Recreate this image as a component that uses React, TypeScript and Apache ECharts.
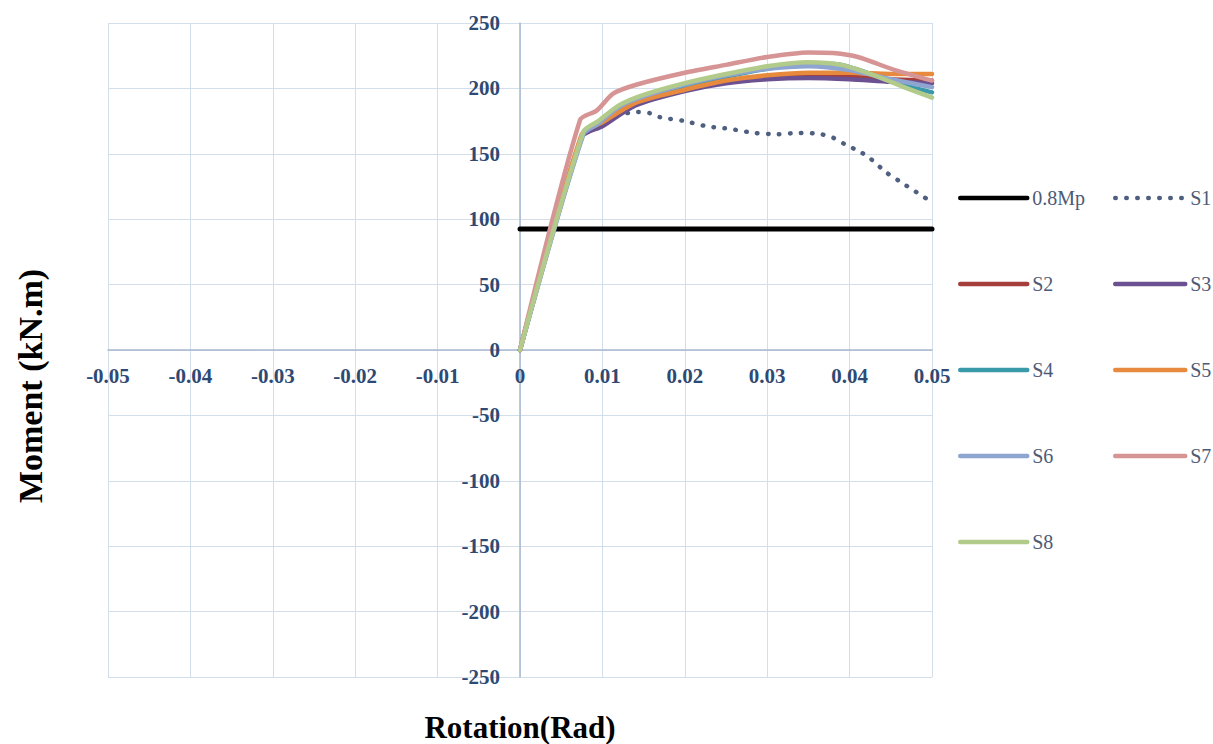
import React, { useEffect, useRef } from "react";
import * as echarts from "echarts";

// ---- data (rotation in rad, moment in kN.m) ----
const mpX = [0, 0.05];
const mpY = [92.5, 92.5];

const s1X = [0, 0.0075, 0.0095, 0.0115, 0.0142, 0.0158, 0.017, 0.02, 0.0227, 0.0255, 0.0284, 0.0312, 0.034, 0.0365, 0.0381, 0.0395, 0.0408, 0.0422, 0.0444, 0.0468, 0.0495];
const s1Y = [0, 164, 173, 179, 182, 181, 178, 175, 171, 169, 166, 165, 166, 165, 162, 157, 153, 148, 136, 126, 115];

const s2X = [0, 0.0075, 0.01, 0.014, 0.02, 0.025, 0.03, 0.035, 0.04, 0.045, 0.05];
const s2Y = [0, 163, 172, 188, 199, 205, 209, 210, 209, 207, 206];

const s3X = [0, 0.0075, 0.01, 0.014, 0.02, 0.025, 0.03, 0.035, 0.04, 0.045, 0.05];
const s3Y = [0, 163, 171, 187, 198, 204, 207, 208, 207, 205, 204];

const s4X = [0, 0.0077, 0.0095, 0.012, 0.015, 0.02, 0.025, 0.03, 0.035, 0.039, 0.0435, 0.0475, 0.05];
const s4Y = [0, 166, 173, 185, 193, 202, 209, 215, 219, 218, 209, 201, 197];

const s5X = [0, 0.0075, 0.01, 0.014, 0.02, 0.025, 0.03, 0.035, 0.04, 0.045, 0.05];
const s5Y = [0, 165, 174, 189, 199, 206, 210, 212, 212, 211, 211];

const s6X = [0, 0.0077, 0.0095, 0.012, 0.015, 0.02, 0.025, 0.03, 0.035, 0.04, 0.045, 0.05];
const s6Y = [0, 165, 173, 186, 194, 203, 210, 215, 217, 214, 207, 201];

const s7X = [0, 0.0073, 0.0093, 0.0113, 0.0142, 0.02, 0.025, 0.03, 0.035, 0.038, 0.041, 0.0455, 0.05];
const s7Y = [0, 176, 183, 196, 203, 212, 218, 224, 227.5, 227, 224, 214, 206];

const s8X = [0, 0.0077, 0.0095, 0.012, 0.015, 0.02, 0.025, 0.03, 0.035, 0.039, 0.043, 0.047, 0.05];
const s8Y = [0, 167, 175, 187, 195, 204, 211, 217, 220, 218, 210, 200, 193];

const xTicks = [-0.05, -0.04, -0.03, -0.02, -0.01, 0, 0.01, 0.02, 0.03, 0.04, 0.05];
const yTicks = [-250, -200, -150, -100, -50, 0, 50, 100, 150, 200, 250];

const pairs = (xs: number[], ys: number[]) => xs.map((x, i) => [x, ys[i]]);

const SERIF = "'Liberation Serif', 'Times New Roman', serif";

// grid geometry
const GRID_LEFT = 108;
const GRID_RIGHT = 281;
const GRID_TOP = 23;
const GRID_BOTTOM = 67;
const W = 1213;
const H = 744;
const plotW = W - GRID_LEFT - GRID_RIGHT;
const plotH = H - GRID_TOP - GRID_BOTTOM;

export default function App() {
  const ref = useRef<HTMLDivElement>(null);

  useEffect(() => {
    document.body.style.margin = "0";
    if (!ref.current) return;
    const chart = echarts.init(ref.current, null, { renderer: "svg" });

    const mk = (name: string, xs: number[], ys: number[], color: string, width = 4.5, extra: any = {}) => ({
      name,
      type: "line",
      data: pairs(xs, ys),
      symbol: "none",
      smooth: name === "0.8Mp" ? false : 0.25,
      lineStyle: { color, width, cap: "round", join: "round", ...extra },
      itemStyle: { color },
      z: 2,
    });

    const legendText = { fontFamily: SERIF, fontSize: 20, color: "#4d5a76", lineHeight: 20 };

    // axes are drawn through the zero point (centre of the symmetric ranges)
    const xOffset = -plotH / 2;
    const yOffset = -plotW / 2;

    chart.setOption({
      animation: false,
      backgroundColor: "#ffffff",
      grid: { left: GRID_LEFT, right: GRID_RIGHT, top: GRID_TOP, bottom: GRID_BOTTOM, containLabel: false },
      xAxis: {
        type: "value",
        min: -0.05,
        max: 0.05,
        interval: 0.01,
        offset: xOffset,
        axisLine: { onZero: false, lineStyle: { color: "#a9b8d0", width: 1.5 } },
        axisTick: { show: false },
        splitLine: { show: true, lineStyle: { color: "#d3deeb", width: 1 } },
        axisLabel: {
          margin: 15,
          fontFamily: SERIF,
          fontWeight: "bold",
          fontSize: 21,
          color: "#2e4a74",
          formatter: (v: number) => {
            const t = xTicks.find((k) => Math.abs(k - v) < 1e-9);
            return t === undefined ? "" : String(Number(t.toFixed(2)));
          },
        },
      },
      yAxis: {
        type: "value",
        min: -250,
        max: 250,
        interval: 50,
        offset: yOffset,
        axisLine: { onZero: false, lineStyle: { color: "#a9b8d0", width: 1.5 } },
        axisTick: { show: false },
        splitLine: { show: true, lineStyle: { color: "#d3deeb", width: 1 } },
        axisLabel: {
          margin: 20,
          fontFamily: SERIF,
          fontWeight: "bold",
          fontSize: 21,
          color: "#2e4a74",
          formatter: (v: number) => (yTicks.includes(v) ? String(v) : ""),
        },
      },
      legend: [
        {
          orient: "vertical",
          left: 953,
          top: 183,
          itemWidth: 67,
          itemHeight: 14,
          itemGap: 66,
          data: ["0.8Mp", "S2", "S4", "S6", "S8"],
          textStyle: legendText,
          lineStyle: { width: 4.5 },
          itemStyle: { opacity: 0 },
          selectedMode: false,
        },
        {
          orient: "vertical",
          left: 1108,
          top: 183,
          itemWidth: 70,
          itemHeight: 14,
          itemGap: 66,
          data: ["S1", "S3", "S5", "S7"],
          textStyle: legendText,
          lineStyle: { width: 4.5 },
          itemStyle: { opacity: 0 },
          selectedMode: false,
        },
      ],
      graphic: [
        {
          type: "text",
          x: 30,
          y: 386,
          rotation: Math.PI / 2,
          style: {
            text: "Moment (kN.m)",
            fontFamily: SERIF,
            fontWeight: "bold",
            fontSize: 34,
            fill: "#000000",
            textAlign: "center",
            textVerticalAlign: "middle",
          },
        },
        {
          type: "text",
          x: 520,
          y: 727,
          style: {
            text: "Rotation(Rad)",
            fontFamily: SERIF,
            fontWeight: "bold",
            fontSize: 31,
            fill: "#000000",
            textAlign: "center",
            textVerticalAlign: "middle",
          },
        },
      ],
      series: [
        mk("0.8Mp", mpX, mpY, "#000000", 5),
        mk("S1", s1X, s1Y, "#4f5f80", 4.5, { type: [0.5, 10.5], cap: "round" }),
        mk("S2", s2X, s2Y, "#a63f3c", 4.5),
        mk("S3", s3X, s3Y, "#6b5191", 4.5),
        mk("S4", s4X, s4Y, "#3b9aa9", 4.5),
        mk("S5", s5X, s5Y, "#e78a3d", 4.5),
        mk("S6", s6X, s6Y, "#8da5d0", 4.5),
        mk("S7", s7X, s7Y, "#d69594", 4.5),
        mk("S8", s8X, s8Y, "#b3cb8a", 4.5),
      ],
    });

    return () => chart.dispose();
  }, []);

  return <div ref={ref} style={{ width: W, height: H }} />;
}
